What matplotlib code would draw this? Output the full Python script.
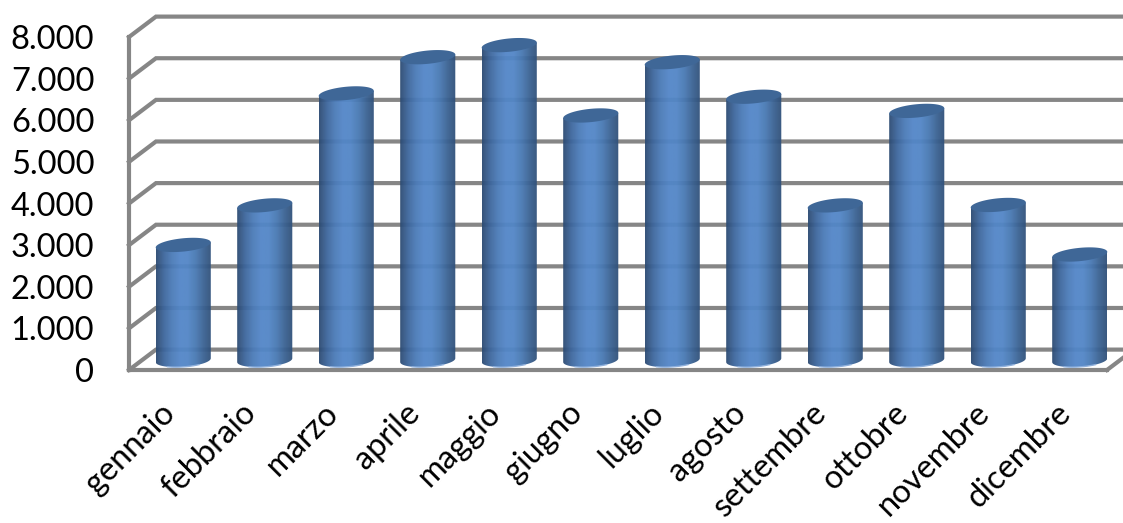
import matplotlib
matplotlib.use('Agg')
import matplotlib.pyplot as plt
import numpy as np
from matplotlib.patches import PathPatch
from matplotlib.path import Path
from matplotlib.colors import LinearSegmentedColormap
from matplotlib.transforms import ScaledTranslation

# data
mesi = ['gennaio', 'febbraio', 'marzo', 'aprile', 'maggio', 'giugno', 'luglio',
        'agosto', 'settembre', 'ottobre', 'novembre', 'dicembre']
valori = [2770, 3720, 6410, 7280, 7570, 5880, 7160, 6330, 3720, 5990, 3730, 2540]
y_ticks = [0, 1000, 2000, 3000, 4000, 5000, 6000, 7000, 8000]
y_labels = ['0', '1.000', '2.000', '3.000', '4.000', '5.000', '6.000', '7.000', '8.000']

plt.rcParams['font.family'] = ['Lato', 'DejaVu Sans']

W, H = 1123, 523
fig = plt.figure(figsize=(W / 100, H / 100), dpi=100)
# front plane of the 3d box
ax = fig.add_axes([129 / W, 1 - 370 / H, (1107 - 129) / W, (370 - 37) / H])
ax.set_facecolor('none')

grey = '#868686'
lw = 3.0
depth_x = 0.331   # wall offset, in category units
depth_y = 490     # wall offset, in value units

# back wall and side wall lines
for v in y_ticks:
    ax.plot([11.9, -0.5 + depth_x, -0.5], [v + depth_y, v + depth_y, v],
            color=grey, lw=lw, clip_on=False, zorder=1, solid_joinstyle='miter')
ax.plot([11.5, 11.5 + depth_x], [0, depth_y], color=grey, lw=lw, clip_on=False, zorder=1)

# cylinders
a = 0.338     # half width
b = 160       # half height of the ellipse
tilt = 62     # top ellipse goes up to the right
tilt_base = 45
t_low = np.linspace(np.pi, 2 * np.pi, 40)
t_all = np.linspace(0, 2 * np.pi, 80)
cmap = LinearSegmentedColormap.from_list('cil', ['#2c4a72', '#3d669c', '#4b7bb8', '#5386c8',
                                                 '#5286c6', '#4878b2', '#3a6292', '#2f4f78'])
grad = np.linspace(0, 1, 128).reshape(1, -1)

for i, val in enumerate(valori):
    xc = i + depth_x / 2
    yb = depth_y / 2 - 10
    yt = yb + val
    # body: lower half of the base, then straight up and across the top
    xs = xc + a * np.cos(t_low)
    ys = yb + b * np.sin(t_low) + tilt_base * np.cos(t_low)
    px = list(xs) + [xc + a, xc - a, xc - a]
    py = list(ys) + [yt + tilt, yt - tilt, ys[0]]
    body = PathPatch(Path(np.column_stack([px, py]), closed=False), fc='none', ec='none', zorder=3,
                     clip_on=False)
    ax.add_patch(body)
    im = ax.imshow(grad, extent=[xc - a, xc + a, -400, 9000], cmap=cmap, aspect='auto',
                   alpha=0.95, zorder=3, clip_on=True)
    im.set_clip_path(body)
    # lighter rim at the bottom
    ax.plot(xs[12:28], ys[12:28], color='#8fb0dc', lw=1.0, zorder=3.5, clip_on=False)
    # top
    top_x = xc + a * np.cos(t_all)
    top_y = yt + b * np.sin(t_all) + tilt * np.cos(t_all)
    ax.fill(top_x, top_y, color='#3f6797', lw=0, zorder=4, clip_on=False)

ax.set_xlim(-0.5, 11.5)
ax.set_ylim(0, 8000)

for s in ['top', 'right']:
    ax.spines[s].set_visible(False)
for s in ['left', 'bottom']:
    ax.spines[s].set_color(grey)
    ax.spines[s].set_linewidth(lw)
    ax.spines[s].set_zorder(2)

ax.set_yticks(y_ticks)
ax.set_yticklabels(y_labels, fontsize=23.5, color='black')
ax.tick_params(axis='y', length=0, pad=25)

ax.set_xticks(range(len(mesi)))
ax.set_xticklabels(mesi, fontsize=23.5, color='black', rotation=45, ha='right', rotation_mode='anchor')
ax.tick_params(axis='x', length=0, pad=20)
shift = ScaledTranslation(-10 / 100, 0, fig.dpi_scale_trans)
for lab in ax.get_xticklabels():
    lab.set_transform(lab.get_transform() + shift)

fig.savefig('out.png', dpi=100)
